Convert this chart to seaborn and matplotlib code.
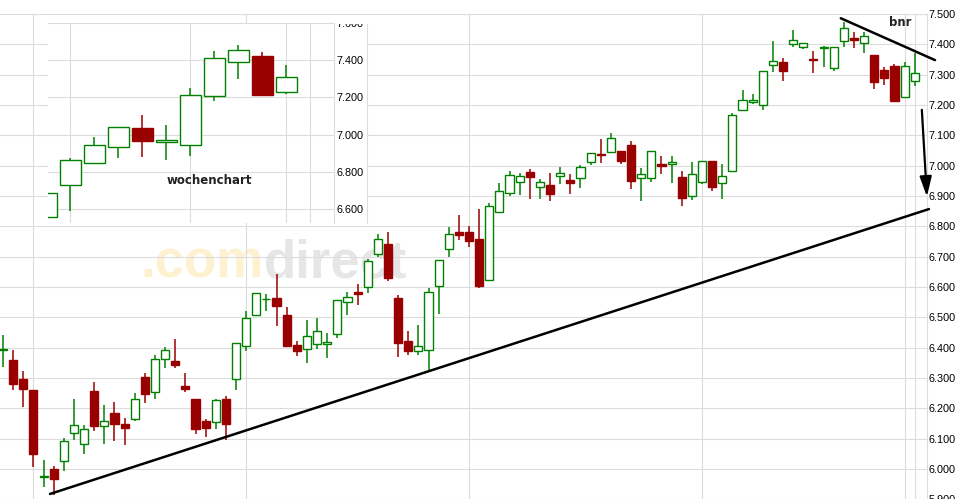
import numpy as np
import pandas as pd
import matplotlib
matplotlib.use("Agg")
import matplotlib.pyplot as plt
import seaborn as sns
from matplotlib.lines import Line2D
from matplotlib.patches import Rectangle
from matplotlib.transforms import Bbox, TransformedBbox

# daily candles
day_open = [6.392, 6.360, 6.297, 6.261, 5.973, 5.999, 6.025, 6.119, 6.082, 6.258,
            6.142, 6.185, 6.149, 6.165, 6.303, 6.253, 6.363, 6.357, 6.274, 6.231,
            6.159, 6.155, 6.230, 6.296, 6.405, 6.507, 6.559, 6.564, 6.508, 6.408,
            6.397, 6.412, 6.411, 6.444, 6.550, 6.584, 6.601, 6.708, 6.742, 6.565,
            6.422, 6.388, 6.391, 6.604, 6.727, 6.783, 6.780, 6.759, 6.624, 6.846,
            6.909, 6.946, 6.980, 6.929, 6.936, 6.966, 6.953, 6.959, 7.011, 7.038,
            7.046, 7.048, 7.068, 6.959, 6.959, 7.005, 7.004, 6.963, 6.899, 6.946,
            7.014, 6.942, 6.983, 7.182, 7.209, 7.199, 7.331, 7.341, 7.400, 7.391,
            7.351, 7.387, 7.322, 7.411, 7.421, 7.406, 7.365, 7.315, 7.330, 7.226,
            7.278]
day_high = [6.442, 6.393, 6.324, 6.261, 6.030, 6.010, 6.104, 6.231, 6.146, 6.287,
            6.211, 6.221, 6.169, 6.250, 6.316, 6.377, 6.402, 6.429, 6.316, 6.231,
            6.166, 6.231, 6.241, 6.416, 6.522, 6.580, 6.577, 6.643, 6.535, 6.422,
            6.492, 6.497, 6.448, 6.557, 6.582, 6.610, 6.693, 6.776, 6.780, 6.575,
            6.455, 6.475, 6.597, 6.689, 6.798, 6.838, 6.802, 6.856, 6.876, 6.942,
            6.981, 6.975, 6.990, 6.957, 6.976, 6.995, 6.973, 7.002, 7.041, 7.087,
            7.107, 7.050, 7.080, 6.992, 7.050, 7.032, 7.032, 6.981, 7.013, 7.014,
            7.014, 7.005, 7.173, 7.249, 7.235, 7.312, 7.411, 7.355, 7.446, 7.405,
            7.377, 7.395, 7.392, 7.474, 7.440, 7.440, 7.365, 7.324, 7.335, 7.341,
            7.370]
day_low = [6.335, 6.259, 6.206, 6.006, 5.941, 5.914, 5.995, 6.096, 6.051, 6.127,
           6.082, 6.091, 6.078, 6.157, 6.219, 6.232, 6.332, 6.332, 6.255, 6.117,
           6.107, 6.132, 6.095, 6.259, 6.390, 6.503, 6.522, 6.473, 6.405, 6.374,
           6.348, 6.396, 6.365, 6.433, 6.509, 6.542, 6.579, 6.698, 6.619, 6.371,
           6.377, 6.376, 6.322, 6.512, 6.700, 6.756, 6.733, 6.597, 6.622, 6.846,
           6.900, 6.905, 6.891, 6.891, 6.882, 6.938, 6.908, 6.927, 7.001, 7.008,
           7.041, 7.004, 6.923, 6.885, 6.946, 6.974, 6.944, 6.868, 6.888, 6.940,
           6.918, 6.891, 6.978, 7.180, 7.202, 7.184, 7.309, 7.280, 7.391, 7.383,
           7.304, 7.325, 7.312, 7.390, 7.388, 7.370, 7.253, 7.267, 7.214, 7.224,
           7.264]
day_close = [6.395, 6.279, 6.263, 6.049, 5.976, 5.968, 6.092, 6.145, 6.132, 6.141,
             6.160, 6.150, 6.137, 6.230, 6.246, 6.363, 6.392, 6.342, 6.263, 6.131,
             6.134, 6.228, 6.147, 6.415, 6.497, 6.580, 6.562, 6.536, 6.407, 6.388,
             6.438, 6.454, 6.419, 6.557, 6.567, 6.576, 6.685, 6.758, 6.629, 6.417,
             6.388, 6.405, 6.583, 6.689, 6.774, 6.770, 6.753, 6.604, 6.867, 6.918,
             6.969, 6.966, 6.964, 6.946, 6.908, 6.975, 6.944, 6.995, 7.041, 7.034,
             7.090, 7.016, 6.949, 6.973, 7.048, 7.000, 7.012, 6.895, 6.973, 7.014,
             6.931, 6.966, 7.167, 7.216, 7.216, 7.311, 7.344, 7.311, 7.413, 7.403,
             7.347, 7.390, 7.391, 7.453, 7.413, 7.427, 7.277, 7.290, 7.214, 7.327,
             7.307]

# weekly candles (inset)
week_open = [6.555, 6.727, 6.845, 6.933, 7.035, 6.958, 6.942, 7.205, 7.388, 7.421, 7.227]
week_high = [6.684, 6.874, 6.987, 7.039, 7.105, 7.051, 7.250, 7.448, 7.481, 7.443, 7.373]
week_low = [6.555, 6.591, 6.845, 6.876, 6.881, 6.865, 6.886, 7.181, 7.300, 7.214, 7.219]
week_close = [6.684, 6.861, 6.942, 7.039, 6.967, 6.969, 7.210, 7.409, 7.452, 7.214, 7.307]

price_ticks = [5.9, 6.0, 6.1, 6.2, 6.3, 6.4, 6.5, 6.6, 6.7, 6.8, 6.9,
               7.0, 7.1, 7.2, 7.3, 7.4, 7.5]
week_ticks = [6.6, 6.8, 7.0, 7.2, 7.4, 7.6]
day_grid = [3, 24, 46, 69, 89, 90]
week_grid = [1, 6, 10, 11]

# drawn lines
support_x = [4.64, 91.4]
support_y = [5.918, 6.857]
resist_x = [82.7, 92.0]
resist_y = [7.486, 7.348]
arrow_from = (90.7, 7.184)
arrow_to = (91.2, 6.898)

sns.set_theme(style="white")
plt.rcParams["font.family"] = ["Liberation Sans", "DejaVu Sans"]

GREEN = "#008000"
RED = "#990000"
GRID = "#dcdcdc"
W, H = 960, 499


def candles(ax, o, h, l, c, width, lw):
    df = pd.DataFrame({"open": o, "high": h, "low": l, "close": c})
    df["x"] = np.arange(len(df))
    up = df["close"] >= df["open"]
    edge = np.where(up, GREEN, RED)
    fill = np.where(up, "white", RED)
    ax.vlines(df["x"], df["low"], df["high"], colors=edge, lw=1.1, zorder=3)
    body_low = df[["open", "close"]].min(axis=1)
    body_h = (df["close"] - df["open"]).abs().clip(lower=0.003)
    ax.bar(df["x"], body_h, bottom=body_low, width=width, color=fill,
           edgecolor=edge, linewidth=lw, zorder=4)


def style_axes(ax, yt, xt, fmt):
    ax.set_yticks(yt)
    ax.set_yticklabels([fmt.format(v) for v in yt])
    ax.yaxis.tick_right()
    ax.set_xticks(xt)
    ax.tick_params(axis="x", length=0, labelbottom=False)
    ax.tick_params(axis="y", length=0, pad=1.5, labelsize=7.8, labelcolor="black")
    ax.grid(True, color=GRID, lw=0.8)
    ax.set_axisbelow(True)
    for s in ["top", "left", "bottom"]:
        ax.spines[s].set_visible(False)
    ax.spines["right"].set_color(GRID)
    ax.spines["right"].set_linewidth(0.8)


fig = plt.figure(figsize=(9.6, 4.99), dpi=100)

# main daily chart
ax = fig.add_axes([0, -0.4 / H, 926.7 / W, 485.4 / H])
candles(ax, day_open, day_high, day_low, day_close, 0.8, 1.0)
style_axes(ax, price_ticks, day_grid, "{:.3f}")
ax.set_xlim(-0.3, 91.18)
ax.set_ylim(5.9, 7.5)

ax.text(264 / W, 1 - 277.7 / H, ".com", transform=fig.transFigure, ha="right",
        va="baseline", fontsize=38, fontweight="bold", color="#fdf1cf", zorder=0.3)
ax.text(264 / W, 1 - 277.7 / H, "direct", transform=fig.transFigure, ha="left",
        va="baseline", fontsize=38, fontweight="bold", color="#e6e6e6", zorder=0.3)

sns.lineplot(x=support_x, y=support_y, ax=ax, color="black", lw=1.8,
             clip_on=False, zorder=5)
sns.lineplot(x=resist_x, y=resist_y, ax=ax, color="black", lw=1.8,
             clip_on=False, zorder=5)
ax.annotate("", xy=arrow_to, xytext=arrow_from, annotation_clip=False,
            arrowprops=dict(arrowstyle="-|>,head_length=0.6,head_width=0.18",
                            mutation_scale=20, color="black", lw=1.6,
                            shrinkA=0, shrinkB=0))
ax.text(900 / W, 1 - 26 / H, "bnr", transform=fig.transFigure, ha="center",
        va="baseline", fontsize=8.4, fontweight="bold", color="#222222",
        family="DejaVu Sans", zorder=6)
ax.set_xlim(-0.3, 91.18)
ax.set_ylim(5.9, 7.5)

# weekly inset
fig.add_artist(Rectangle((48 / W, 1 - 223 / H), 319 / W, 199 / H,
                         transform=fig.transFigure, facecolor="white",
                         edgecolor="none", zorder=1.5))
fig.add_artist(Line2D([367 / W, 367 / W], [1 - 223 / H, 1 - 24 / H],
                      transform=fig.transFigure, color=GRID, lw=0.8, zorder=2.5))
ax_in = fig.add_axes([48 / W, 1 - 223 / H, 286 / W, 200.25 / H], zorder=2)
ax_in.set_facecolor("white")
candles(ax_in, week_open, week_high, week_low, week_close, 0.875, 1.0)
style_axes(ax_in, week_ticks, week_grid, "{:.3f}")
ax_in.set_xlim(0.083, 12.0)
ax_in.set_ylim(6.525, 7.6)
ax_in.text(209 / W, 1 - 184 / H, "wochenchart", transform=fig.transFigure,
           ha="center", va="baseline", fontsize=8.5, fontweight="bold",
           color="#222222", family="DejaVu Sans", zorder=6)

clip = TransformedBbox(Bbox.from_extents(48 / W, 1 - 223 / H, 367 / W, 1 - 24 / H),
                       fig.transFigure)
for t in ax_in.yaxis.get_major_ticks():
    t.label2.set_clip_box(clip)
    t.label2.set_clip_on(True)

fig.savefig("out.png", dpi=100)
